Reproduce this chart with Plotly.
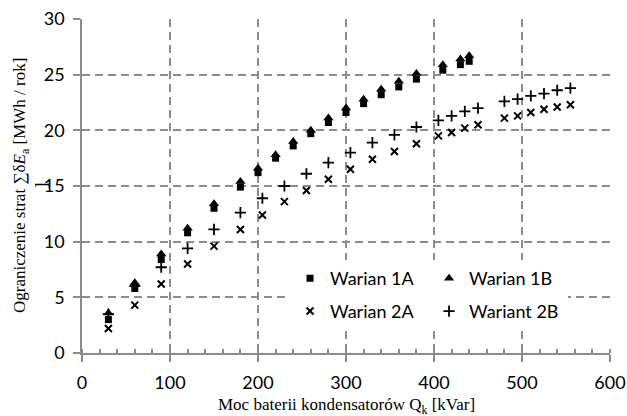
import plotly.graph_objects as go

# ---- data ----
x1 = [30, 60, 90, 120, 150, 180, 200, 220, 240, 260, 280, 300, 320, 340, 360, 380, 410, 430, 440]
warian_1a = [3.0, 5.8, 8.4, 10.8, 13.0, 14.9, 16.2, 17.5, 18.6, 19.7, 20.7, 21.6, 22.4, 23.2, 23.9, 24.6, 25.4, 25.9, 26.2]
warian_1b = [3.6, 6.3, 8.9, 11.2, 13.4, 15.4, 16.6, 17.8, 19.0, 20.0, 21.1, 22.0, 22.8, 23.7, 24.4, 25.1, 25.9, 26.4, 26.7]

x2 = [30, 60, 90, 120, 150, 180, 205, 230, 255, 280, 305, 330, 355, 380, 405, 420, 435, 450, 480, 495, 510, 525, 540, 555]
warian_2a = [2.2, 4.3, 6.2, 8.0, 9.6, 11.1, 12.4, 13.6, 14.6, 15.6, 16.5, 17.4, 18.1, 18.8, 19.5, 19.8, 20.2, 20.5, 21.1, 21.3, 21.6, 21.9, 22.1, 22.3]
wariant_2b = [3.5, 6.0, 7.7, 9.4, 11.1, 12.6, 13.9, 15.0, 16.1, 17.1, 18.0, 18.9, 19.6, 20.3, 20.9, 21.3, 21.7, 22.0, 22.6, 22.8, 23.1, 23.3, 23.6, 23.8]

names = ["Warian 1A", "Warian 1B", "Warian 2A", "Wariant 2B"]
x_ticks = [0, 100, 200, 300, 400, 500, 600]
y_ticks = [0, 5, 10, 15, 20, 25, 30]

GRID = "#8c8c8c"
SANS = "Lato, Open Sans, sans-serif"
TICKFONT = dict(family=SANS, size=18, color="#000000")
SERIF = "Liberation Serif, Times New Roman, serif"

fig = go.Figure()
fig.add_trace(go.Scatter(x=x1, y=warian_1a, mode="markers", name=names[0], legend="legend",
                         marker=dict(symbol="square", size=7, color="black")))
fig.add_trace(go.Scatter(x=x1, y=warian_1b, mode="markers", name=names[1], legend="legend",
                         marker=dict(symbol="triangle-up", size=9, color="black")))
fig.add_trace(go.Scatter(x=x2, y=warian_2a, mode="markers", name=names[2], legend="legend2",
                         marker=dict(symbol="x-thin", size=7, color="black",
                                     line=dict(color="black", width=2))))
fig.add_trace(go.Scatter(x=x2, y=wariant_2b, mode="markers", name=names[3], legend="legend2",
                         marker=dict(symbol="cross-thin", size=8, color="black",
                                     line=dict(color="black", width=1.8))))

legend_common = dict(
    orientation="h", xanchor="left", yanchor="top",
    bgcolor="white",
    font=dict(family=SANS, size=18, color="black"),
    entrywidth=94, entrywidthmode="pixels",
    itemsizing="trace",
)

fig.update_layout(
    width=627, height=416,
    margin=dict(l=82, r=17, t=19, b=63, autoexpand=False),
    paper_bgcolor="white", plot_bgcolor="white",
    showlegend=True,
    legend=dict(x=0.394, y=0.278, **legend_common),
    legend2=dict(x=0.394, y=0.180, **legend_common),
    xaxis=dict(
        range=[0, 600], tickvals=x_ticks, ticktext=[str(v) for v in x_ticks],
        showline=True, linecolor=GRID, linewidth=1.5,
        ticks="outside", ticklen=7, tickcolor=GRID, tickwidth=1.5,
        showgrid=True, gridcolor=GRID, gridwidth=1.5, griddash="8px,5px",
        zeroline=False, tickfont=TICKFONT, automargin=False, ticklabelstandoff=6,
        minor=dict(dtick=20, ticks="inside", ticklen=4, tickcolor=GRID, tickwidth=1.5, showgrid=False),
    ),
    yaxis=dict(
        range=[0, 30], tickvals=y_ticks, ticktext=[str(v) for v in y_ticks],
        showline=True, linecolor=GRID, linewidth=1.5,
        ticks="outside", ticklen=7, tickcolor=GRID, tickwidth=1.5,
        showgrid=True, gridcolor=GRID, gridwidth=1.5, griddash="8px,5px",
        zeroline=False, tickfont=TICKFONT, automargin=False, ticklabelstandoff=5,
    ),
    annotations=[
        dict(text="Moc baterii kondensatorów Q<sub>k</sub> [kVar]",
             xref="paper", yref="paper", x=0.5, y=0, xanchor="center", yanchor="top",
             yshift=-40, showarrow=False, font=dict(family=SERIF, size=17, color="black")),
        dict(text="Ograniczenie strat ∑δ<i>E</i><sub>a</sub> [MWh / rok]<br>]",
             xref="paper", yref="paper", x=0, y=0.5, xanchor="center", yanchor="middle",
             xshift=-52, textangle=-90, showarrow=False,
             font=dict(family=SERIF, size=17, color="black")),
    ],
)

fig.write_html("out.html", config={"displayModeBar": False},
               post_script="document.body.style.margin='0';document.body.style.padding='0';")
